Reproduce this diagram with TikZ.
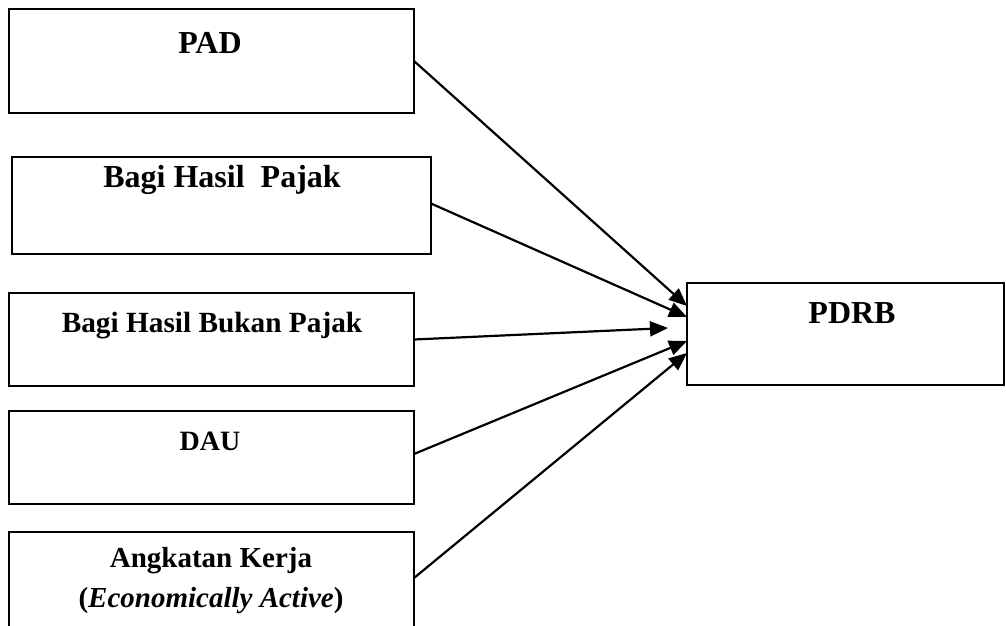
\documentclass[tikz,border=0pt]{standalone}
\usepackage{fontspec}
\setmainfont{Liberation Serif}
\usetikzlibrary{arrows.meta}
\begin{document}
\begin{tikzpicture}[x=1pt,y=-1pt,
  box/.style={draw=black, line width=2.2pt, rectangle, inner sep=0pt, outer sep=0pt, fill=white},
  lbl/.style={inner sep=0pt, anchor=base, font=\bfseries},
  conn/.style={line width=2.2pt, -{Triangle[length=18pt,width=15pt]}, shorten >=0pt}
]
\useasboundingbox[fill=white] (0,0) rectangle (1006,626);
% boxes
\node[box, minimum width=405pt, minimum height=104pt] (pad) at (211.5,61) {};
\node[box, minimum width=419pt, minimum height=97pt] (bhp) at (221.5,205.5) {};
\node[box, minimum width=405pt, minimum height=93pt] (bhbp) at (211.5,339.5) {};
\node[box, minimum width=405pt, minimum height=93pt] (dau) at (211.5,457.5) {};
\node[box, minimum width=405pt, minimum height=98pt] (ak) at (211.5,581) {};
\node[box, minimum width=317pt, minimum height=102pt] (pdrb) at (845.5,334) {};
% labels
\node[lbl, font=\bfseries\fontsize{32}{32}\selectfont] (tpad) at (210,54) {PAD};
\node[lbl, font=\bfseries\fontsize{32}{32}\selectfont] (tbhp) at (222,187) {Bagi Hasil\ \ Pajak};
\node[lbl, font=\bfseries\fontsize{29.3}{29.3}\selectfont] (tbhbp) at (212,332) {Bagi Hasil Bukan Pajak};
\node[lbl, font=\bfseries\fontsize{28}{28}\selectfont] (tdau) at (210,450) {DAU};
\node[lbl, font=\bfseries\fontsize{29}{29}\selectfont] (tak1) at (211,567) {Angkatan Kerja};
\node[lbl, font=\bfseries\fontsize{29}{29}\selectfont] (tak2) at (211,607) {(\textit{Economically Active})};
\node[lbl, font=\bfseries\fontsize{32}{32}\selectfont] (tpdrb) at (852,323) {PDRB};
% connectors
\draw[conn] (pad.east) -- ([yshift=28pt]pdrb.west);
\draw[conn] ([yshift=2pt]bhp.east) -- ([yshift=17pt]pdrb.west);
\draw[conn] (bhbp.east) -- ([xshift=-19pt,yshift=6pt]pdrb.west);
\draw[conn] ([yshift=3.5pt]dau.east) -- ([yshift=-7pt]pdrb.west);
\draw[conn] ([yshift=3pt]ak.east) -- ([yshift=-19pt]pdrb.west);
\end{tikzpicture}
\end{document}
